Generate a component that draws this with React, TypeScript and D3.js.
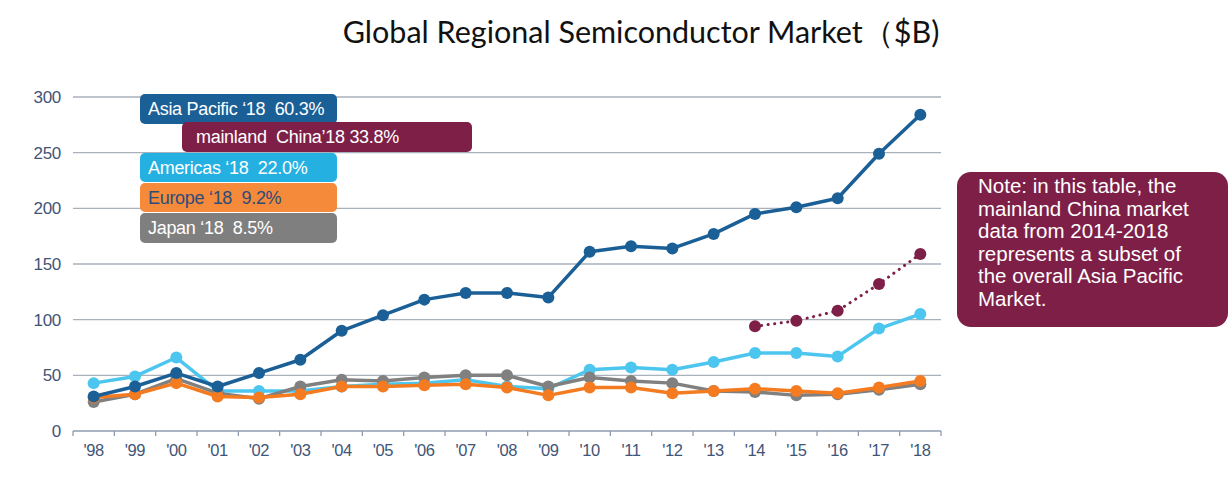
import React from "react";
import * as d3 from "d3";

const years = ["'98","'99","'00","'01","'02","'03","'04","'05","'06","'07","'08","'09","'10","'11","'12","'13","'14","'15","'16","'17","'18"];
const asiaPacific = [31,40,52,40,52,64,90,104,118,124,124,120,161,166,164,177,195,201,209,249,284];
const americas = [43,49,66,36,36,36,40,42,43,46,40,38,55,57,55,62,70,70,67,92,105];
const europe = [30,33,43,31,30,33,40,40,41,42,39,32,39,39,34,36,38,36,34,39,45];
const japan = [26,33,47,34,29,40,46,45,48,50,50,40,48,45,43,36,35,32,33,37,42];
const chinaYears = ["'14","'15","'16","'17","'18"];
const china = [94,99,108,132,159];
const yTicks = [0,50,100,150,200,250,300];

const legendItems = [
  { label: "Asia Pacific \u201818  60.3%", fill: "#1b5f97", text: "#ffffff" },
  { label: "mainland  China\u201918 33.8%", fill: "#7e1f48", text: "#ffffff" },
  { label: "Americas \u201818  22.0%", fill: "#25b0e2", text: "#ffffff" },
  { label: "Europe \u201818  9.2%", fill: "#f58a3a", text: "#2b4c7e" },
  { label: "Japan \u201818  8.5%", fill: "#7f7f7f", text: "#ffffff" },
];

const noteLines = [
  "Note: in this table, the",
  "mainland China market",
  "data from 2014-2018",
  "represents a subset of",
  "the overall Asia Pacific",
  "Market.",
];

export default function App() {
  const W = 1229, H = 479;
  const x = d3.scaleBand<string>().domain(years).range([73, 941]).padding(0);
  const bw = x.bandwidth();
  const cx = (k: string) => (x(k) as number) + bw / 2;
  const y = d3.scaleLinear().domain([0, 300]).range([431, 97]);

  const line = d3.line<[string, number]>().x(d => cx(d[0])).y(d => y(d[1]));

  const series = [
    { data: americas, color: "#4cc6ee" },
    { data: japan, color: "#808080" },
    { data: europe, color: "#f47b20" },
    { data: asiaPacific, color: "#1b5f97" },
  ];

  const tickFill = "#3f5577";
  const font = "Arial, 'Liberation Sans', sans-serif";

  const legendBoxes = [
    { x: 140, y: 94, w: 197, h: 30 },
    { x: 182, y: 122, w: 290, h: 30 },
    { x: 140, y: 153, w: 197, h: 29 },
    { x: 140, y: 183, w: 197, h: 29 },
    { x: 140, y: 213, w: 197, h: 30 },
  ];

  return (
    <div style={{ position: "fixed", left: 0, top: 0 }}>
      <svg width={W} height={H} style={{ display: "block", background: "#ffffff" }}>
        <text x={641} y={43} textAnchor="middle" fontFamily="Lato, 'Open Sans', sans-serif" fontSize={30.5} fill="#111">
          Global Regional Semiconductor Market（$B)
        </text>

        {yTicks.filter(t => t > 0).map(t => (
          <line key={t} x1={73} x2={941} y1={y(t)} y2={y(t)} stroke="#a9b1ba" strokeWidth={1.3} />
        ))}
        <line x1={73} x2={941} y1={y(0)} y2={y(0)} stroke="#8d9bb0" strokeWidth={1.5} />
        {years.map(k => (
          <line key={k} x1={x(k) as number} x2={x(k) as number} y1={y(0)} y2={y(0) + 5} stroke="#8d9bb0" strokeWidth={1.3} />
        ))}
        <line x1={941} x2={941} y1={y(0)} y2={y(0) + 5} stroke="#8d9bb0" strokeWidth={1.3} />

        {yTicks.map(t => (
          <text key={t} x={61} y={y(t)} dy="0.35em" textAnchor="end" fontFamily={font} fontSize={17} fill={tickFill} letterSpacing={-0.3}>{t}</text>
        ))}
        {years.map(k => (
          <text key={k} x={cx(k)} y={456} textAnchor="middle" fontFamily={font} fontSize={16.5} fill={tickFill} letterSpacing={-0.4}>{k}</text>
        ))}

        {series.map((s, i) => {
          const pts: [string, number][] = years.map((k, j) => [k, s.data[j]]);
          return (
            <g key={i}>
              <path d={line(pts) as string} fill="none" stroke={s.color} strokeWidth={3.5} strokeLinejoin="round" />
              {pts.map((p, j) => (
                <circle key={j} cx={cx(p[0])} cy={y(p[1])} r={6} fill={s.color} />
              ))}
            </g>
          );
        })}

        {(() => {
          const pts: [string, number][] = chinaYears.map((k, j) => [k, china[j]]);
          return (
            <g>
              <path d={line(pts) as string} fill="none" stroke="#7e1f48" strokeWidth={3} strokeDasharray="0.1 6.5" strokeLinecap="round" />
              {pts.map((p, j) => (
                <circle key={j} cx={cx(p[0])} cy={y(p[1])} r={6} fill="#7e1f48" />
              ))}
            </g>
          );
        })()}

        {legendItems.map((it, i) => {
          const b = legendBoxes[i];
          return (
            <g key={i}>
              <rect x={b.x} y={b.y} width={b.w} height={b.h} rx={5} fill={it.fill} />
              <text x={b.x + (i === 1 ? 14 : 8)} y={b.y + b.h / 2} dy="0.36em" fontFamily={font} fontSize={18} fill={it.text} style={{ whiteSpace: "pre" }} letterSpacing={-0.3}>{it.label}</text>
            </g>
          );
        })}

        <rect x={957} y={172} width={271} height={155} rx={14} fill="#7e1f48" />
        {noteLines.map((l, i) => (
          <text key={i} x={978} y={193 + i * 22.6} fontFamily={font} fontSize={20.5} fill="#ffffff">{l}</text>
        ))}
      </svg>
    </div>
  );
}
